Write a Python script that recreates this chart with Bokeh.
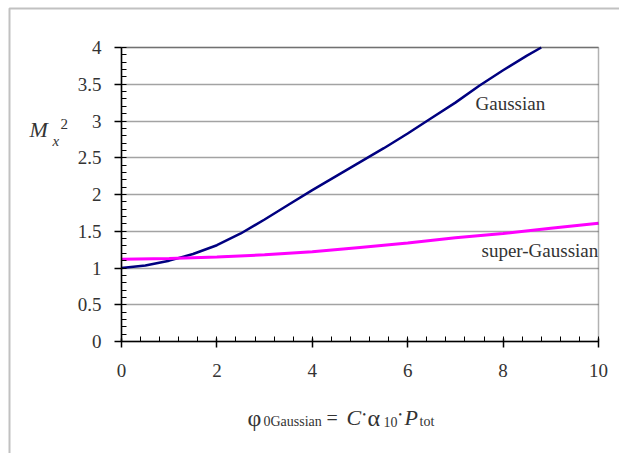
from bokeh.plotting import figure
from bokeh.models import Range1d, FixedTicker, Label, BoxAnnotation, Grid
from bokeh.embed import file_html
from bokeh.resources import INLINE

# ---- data ----
gauss_x = [0, 0.5, 1, 1.5, 2, 2.5, 3, 3.5, 4, 4.5, 5, 5.5, 6, 6.5, 7, 7.5, 8, 8.5, 8.8]
gauss_y = [1.0, 1.035, 1.10, 1.19, 1.31, 1.47, 1.66, 1.86, 2.06, 2.25, 2.44, 2.63, 2.83,
           3.04, 3.25, 3.48, 3.69, 3.89, 4.0]
sg_x = [0, 1, 2, 3, 4, 5, 6, 7, 8, 9, 10]
sg_y = [1.12, 1.13, 1.15, 1.18, 1.22, 1.28, 1.34, 1.41, 1.47, 1.54, 1.61]
x_ticks = [0, 2, 4, 6, 8, 10]
y_ticks = [0, 0.5, 1, 1.5, 2, 2.5, 3, 3.5, 4]
x_minor = [round(0.4 * i, 2) for i in range(26)]
y_minor = [round(0.1 * i, 2) for i in range(41)]

W, H = 619, 453
# plot area (in pixels of the picture) and the value range it shows
FL, FR, FT, FB = 121, 598, 47, 341
X0, X1, Y0, Y1 = 0, 10, 0, 4
FONT = "'Liberation Serif'"
TXT = "#333333"

kx = (X1 - X0) / (FR - FL)
ky = (Y1 - Y0) / (FB - FT)
p = figure(width=W, height=H, output_backend="svg", toolbar_location=None,
           x_range=Range1d(X0 - FL * kx, X1 + (W - FR) * kx),
           y_range=Range1d(Y0 - (H - FB) * ky, Y1 + FT * ky))
p.min_border = 0
p.background_fill_color = "white"
p.border_fill_color = "white"
p.outline_line_color = None

p.xgrid.visible = False
p.ygrid.visible = False
grid = Grid(dimension=1, ticker=FixedTicker(ticks=y_ticks[1:]),
            grid_line_color="#a3a3a3", grid_line_width=1.5)
if "cross_bounds" in Grid.properties():
    grid.cross_bounds = (X0, X1)
    p.add_layout(grid)
else:
    p.segment(x0=[X0] * (len(y_ticks) - 1), x1=[X1] * (len(y_ticks) - 1),
              y0=y_ticks[1:], y1=y_ticks[1:], line_color="#a3a3a3", line_width=1.5)

p.xaxis.ticker = FixedTicker(ticks=x_ticks, minor_ticks=x_minor)
p.yaxis.ticker = FixedTicker(ticks=y_ticks, minor_ticks=y_minor)
p.xaxis.fixed_location = Y0
p.xaxis.bounds = (X0, X1)
p.yaxis.fixed_location = X0
p.yaxis.bounds = (Y0, Y1)
for ax in (p.xaxis, p.yaxis):
    ax.axis_line_color = "black"
    ax.axis_line_width = 1.5
    ax.major_tick_line_color = "black"
    ax.major_tick_line_width = 1.5
    ax.minor_tick_line_color = "black"
    ax.minor_tick_line_width = 1
    ax.minor_tick_in = 5
    ax.minor_tick_out = 0
    ax.major_label_text_font = FONT
    ax.major_label_text_font_size = "19px"
    ax.major_label_text_color = TXT
p.xaxis.major_tick_in = 3
p.xaxis.major_tick_out = 6
p.xaxis.major_label_standoff = 16
p.yaxis.major_tick_in = 0
p.yaxis.major_tick_out = 7
p.yaxis.major_label_standoff = 13

p.line(gauss_x, gauss_y, line_color="#000080", line_width=2.5)
p.line(sg_x, sg_y, line_color="#ff00ff", line_width=3)

def lab(text, px, py, size, italic=False, baseline="alphabetic"):
    p.add_layout(Label(x=px, y=py, x_units="canvas", y_units="canvas", text=text,
                       text_font=FONT, text_font_size=size, text_color=TXT,
                       text_font_style="italic" if italic else "normal",
                       text_align="left", text_baseline=baseline))

lab("Gaussian", 475, 103, "19px", baseline="middle")
lab("super-Gaussian", 481, 250, "19px", baseline="middle")

# y axis title: M_x^2
lab("M", 29, 129, "22px", italic=True)
lab("x", 52, 140, "15px", italic=True)
lab("2", 60, 123, "15px")

# x axis title: phi_0Gaussian = C . alpha_10 . P_tot
lab("\u03c6", 247, 417, "24px")
lab("0Gaussian", 263, 421, "14px")
lab("=", 326, 417, "20px")
lab("C", 346, 417, "22px", italic=True)
lab("\u2022", 362, 414, "10px")
lab("\u03b1", 367, 417, "24px")
lab("10", 383, 421, "14px")
lab("\u2022", 398, 414, "10px")
lab("P", 404, 417, "22px", italic=True)
lab("tot", 419, 421, "14px")

# box round the plot area
p.add_layout(BoxAnnotation(left=X0, right=X1, bottom=Y0, top=Y1, fill_alpha=0,
                           line_color="black", line_width=1.5))
# outer frame of the picture
p.add_layout(BoxAnnotation(left=9, right=W + 20, top=8, bottom=H + 20,
                           left_units="canvas", right_units="canvas",
                           top_units="canvas", bottom_units="canvas",
                           fill_alpha=0, line_color="#333333", line_width=2))

open("out.html", "w").write(file_html(p, INLINE))
